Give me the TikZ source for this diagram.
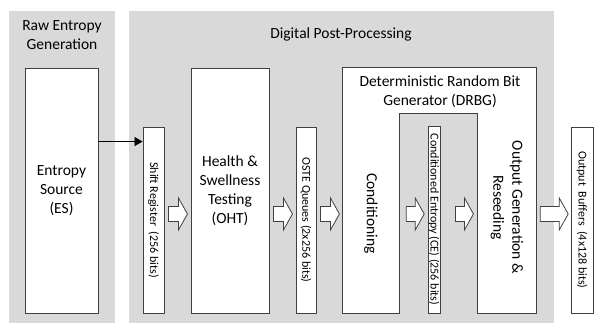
\documentclass[tikz,border=0pt]{standalone}
\usepackage{fontspec}
\setmainfont{Carlito}
\usetikzlibrary{calc,arrows.meta}

\definecolor{panelgrey}{HTML}{D9D9D9}
\definecolor{boxline}{HTML}{404040}

\tikzset{
  panel/.style={fill=panelgrey, draw=none},
  box/.style={draw=boxline, fill=white, line width=0.9pt, inner sep=0pt},
  ghost/.style={draw=none, inner sep=0pt},
  bigtext/.style={font=\fontsize{15.5}{19}\selectfont, align=center, inner sep=0pt},
  smalltext/.style={font=\fontsize{12}{14}\selectfont, inner sep=0pt, rotate=-90},
  vtext/.style={bigtext, rotate=-90},
  feed/.style={draw=black, line width=0.8pt, -{Triangle[length=8pt,width=9pt]}},
  blockarrow/.style={draw=boxline, fill=white, line width=0.8pt, line join=miter},
}

% Hollow block arrow: #1 source node, #2 gap after its east side, #3 total length
\newcommand{\blkarrow}[3]{%
  \path (#1.east |- arrowrow) coordinate (#1-tail);
  \draw[blockarrow] ($(#1-tail)+(#2,0)$) ++(0,-7.5) -- ++({#3-9},0) -- ++(0,-8.5)
    -- ++(9,16) -- ++(-9,16) -- ++(0,-8.5) -- ++({9-#3},0) -- cycle;
}

\begin{document}
\begin{tikzpicture}[x=1pt, y=-1pt]
  \useasboundingbox (0,0) rectangle (594,324);

  % background panels
  \fill[panel] (9,11) rectangle (115,323);
  \fill[panel] (129,11) rectangle (554,323);
  \node[bigtext] (rawtitle) at (62,35) {Raw Entropy\\Generation};
  \node[bigtext] (digtitle) at (341,34) {Digital Post-Processing};

  \coordinate (arrowrow) at (0,214);

  % processing blocks
  \node[box, minimum width=73pt, minimum height=245pt] (es) at (61.5,190.5) {};
  \node[bigtext] at (es) {Entropy\\Source\\(ES)};

  \node[box, minimum width=21pt, minimum height=186pt] (sr) at (153.5,220) {};
  \node[smalltext] at (sr) {Shift Register\ \ (256 bits)};

  \node[box, minimum width=78pt, minimum height=245pt] (oht) at (230,190.5) {};
  \node[bigtext] at (oht) {Health \&\\Swellness\\Testing\\(OHT)};

  \node[box, minimum width=20pt, minimum height=186pt] (oste) at (306,220) {};
  \node[smalltext] at (oste) {OSTE Queues (2x256 bits)};

  % DRBG: one outline holding the conditioning and output stages
  \node[ghost, minimum width=56pt, minimum height=199pt] (cond) at (371,213.5) {};
  \node[ghost, minimum width=58pt, minimum height=199pt] (outgen) at (507,213.5) {};
  \draw[box] (cond.west |- es.north) -- (outgen.east |- es.north) -- (outgen.south east)
    -- (outgen.south west) -- (outgen.north west) -- (cond.north east)
    -- (cond.south east) -- (cond.south west) -- cycle;
  \node[bigtext] (drbg) at (440,92) {Deterministic Random Bit\\Generator (DRBG)};
  \node[vtext] at (cond) {Conditioning};
  \node[vtext] at ($(outgen)+(0,-6)$) {Output Generation \&\\Reseeding};

  \node[box, minimum width=12pt, minimum height=187pt] (ce) at (434,219.5) {};
  \node[smalltext] at (ce) {Conditioned Entropy (CE) (256 bits)};

  \node[box, minimum width=22pt, minimum height=186pt] (ob) at (582,220) {};
  \node[smalltext] at (ob) {Output\ \ Buffers\ \ (4x128 bits)};

  % raw bits into the shift register
  \coordinate (feedpt) at ($(sr.north west)+(0,15)$);
  \draw[feed] (es.east |- feedpt) -- (feedpt);

  % data flow between stages
  \blkarrow{sr}{4}{19}
  \blkarrow{oht}{4}{19}
  \blkarrow{oste}{4}{19}
  \blkarrow{cond}{7}{18}
  \blkarrow{ce}{15}{18}
  \blkarrow{outgen}{4}{28}
\end{tikzpicture}
\end{document}
